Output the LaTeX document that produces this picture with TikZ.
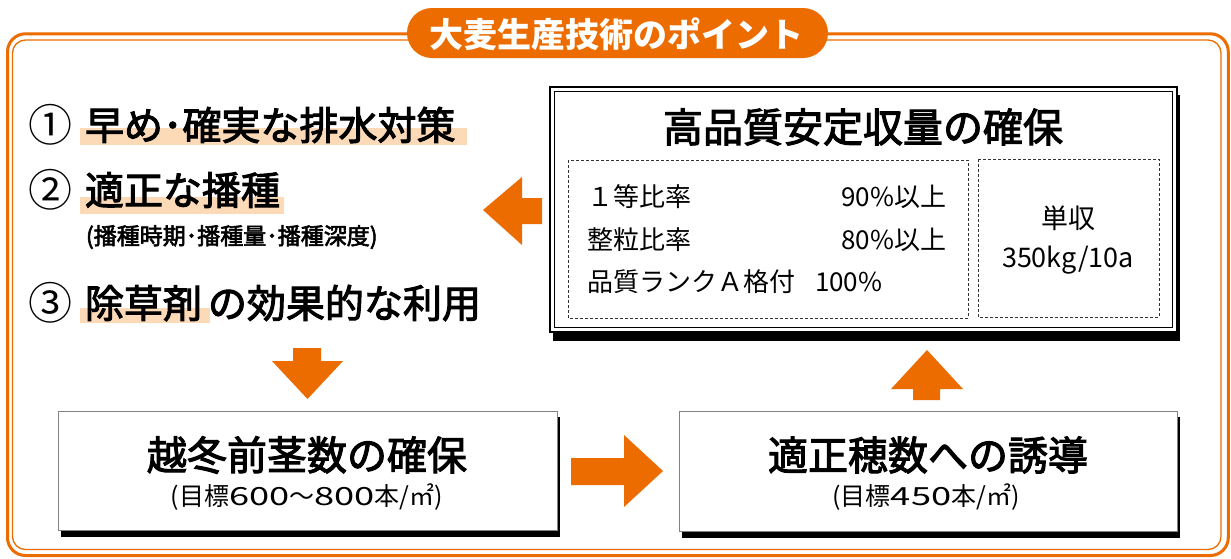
\documentclass[tikz,border=0pt]{standalone}
\usepackage{fontspec}
\usepackage{graphicx}
\setmainfont{Noto Sans CJK JP}
\newfontfamily\jpmed[FakeBold=2.6]{Noto Sans CJK JP}
\definecolor{orng}{RGB}{236,108,0}
\definecolor{peach}{RGB}{252,218,184}
\definecolor{boxgray}{RGB}{130,130,130}
\newcommand\fs[1]{\fontsize{#1}{#1}\selectfont}
\newcommand\wdig[1]{\scalebox{1.45}[1]{#1}}
\begin{document}
\begin{tikzpicture}[x=1pt,y=-1pt,
  every node/.style={inner sep=0pt,outer sep=0pt},
  num/.style={font=\fs{44}},
  item/.style={anchor=west,font=\jpmed\fs{39}},
  itemsub/.style={anchor=west,font=\jpmed\fs{23}},
  hilite/.style={fill=peach},
  blockarrow/.style={fill=orng},
  shadow/.style={fill=black},
  plainbox/.style={draw=boxgray,line width=1pt,fill=white},
  dashbox/.style={draw=black!80,line width=1pt,dash pattern=on 3pt off 2pt},
  boxtitle/.style={font=\jpmed\fs{40}},
  boxsub/.style={font=\fs{25}},
  infotext/.style={font=\fs{26}},
  pill/.style={fill=orng,rounded corners=25pt}]
\useasboundingbox (0,0) rectangle (1231,558);
\fill[white] (0,0) rectangle (1231,558);
% outer frame
\draw[orng,line width=3pt,rounded corners=18pt] (7.5,33.8) rectangle (1228.3,555.5);
\draw[orng,line width=1.3pt,rounded corners=13pt] (12.5,40) rectangle (1221,549.5);
% title pill
\fill[pill] (407,8) rectangle (828,58);
\node[font=\bfseries\fs{34},text=white] (ttl) at (616,34) {大麦生産技術のポイント};
% highlights
\fill[hilite] (80,128) rectangle (467,145);
\fill[hilite] (80,197) rectangle (284,214);
\fill[hilite] (80,308) rectangle (210,323);
% items
\node[num] (n1) at (50,125) {①};
\node[item] (t1) at (85,125) {早め･確実な排水対策};
\node[num] (n2) at (50,190) {②};
\node[item] (t2) at (85,190) {適正な播種};
\node[itemsub] (s2) at (86,237) {(播種時期･播種量･播種深度)};
\node[num] (n3) at (50,303) {③};
\node[item] (t3) at (85,303) {除草剤\hspace{6pt}の効果的な利用};
% high quality box
\fill[shadow] (553,95) rectangle (1180,341);
\draw[line width=2pt,fill=white] (550,87) rectangle (1177,332);
\draw[line width=1pt] (554.5,91.5) rectangle (1172.5,327.5);
\node[boxtitle] (hqt) at (863,127) {高品質安定収量の確保};
\draw[dashbox] (568,160) rectangle (968,318);
\draw[dashbox] (978,159) rectangle (1159,317);
\node[infotext,anchor=west] (r1) at (587,197) {１等比率};
\node[infotext,anchor=west] (r2) at (587,240) {整粒比率};
\node[infotext,anchor=west] (r3) at (587,282) {品質ランクＡ格付};
\node[infotext,anchor=east] (v1) at (946,197) {90\%以上};
\node[infotext,anchor=east] (v2) at (946,240) {80\%以上};
\node[infotext,anchor=west] (v3) at (815,282) {100\%};
\node[font=\fs{27}] (y1) at (1068,218) {単収};
\node[font=\fs{27}] (y2) at (1068,260) {350kg/10a};
% box 1
\fill[shadow] (61,417) rectangle (560,537);
\draw[plainbox] (58,411) rectangle (557,530);
\node[boxtitle] (b1t) at (307,455) {越冬前茎数の確保};
\node[boxsub] (b1s) at (307,497) {(目標\wdig{600}〜\wdig{800}本/㎡)};
% box 2
\fill[shadow] (682,417) rectangle (1180,538);
\draw[plainbox] (679,411) rectangle (1177,531);
\node[boxtitle] (b2t) at (928,455) {適正穂数への誘導};
\node[boxsub] (b2s) at (926,497) {(目標\wdig{450}本/㎡)};
% block arrows
\fill[blockarrow] (483,210) -- (522,177) -- (522,198) -- (542,198) -- (542,224) -- (522,224) -- (522,245) -- cycle;
\fill[blockarrow] (293,348) -- (321,348) -- (321,361) -- (343,361) -- (307.5,399) -- (272,361) -- (293,361) -- cycle;
\fill[blockarrow] (571,458) -- (624,458) -- (624,435) -- (663,471) -- (624,507) -- (624,485) -- (571,485) -- cycle;
\fill[blockarrow] (927,350) -- (963,389) -- (940,389) -- (940,400) -- (913,400) -- (913,389) -- (891,389) -- cycle;
\end{tikzpicture}
\end{document}
